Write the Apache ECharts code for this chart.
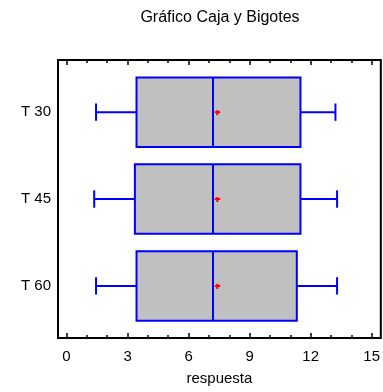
<!doctype html>
<html>
<head>
<meta charset="UTF-8">
<title>Gráfico Caja y Bigotes</title>
<script src="https://cdn.jsdelivr.net/npm/echarts@6/dist/echarts.min.js"></script>
<style>
html,body{margin:0;padding:0;background:#fff;}
#chart{width:383px;height:392px;}
</style>
</head>
<body>
<div id="chart"></div>
<script type="text/javascript">
// categorias y estadisticos
var categorias = ['T 30', 'T 45', 'T 60'];
var minimos   = [1.45, 1.36, 1.45];
var cuartil1  = [3.44, 3.36, 3.44];
var medianas  = [7.20, 7.20, 7.20];
var cuartil3  = [11.50, 11.50, 11.32];
var maximos   = [13.22, 13.30, 13.30];
var medias    = [7.41, 7.41, 7.41];
var ticksX    = [0, 3, 6, 9, 12, 15];
var ticksMenor = [1, 2, 4, 5, 7, 8, 10, 11, 13, 14];

var fuente = 'Liberation Sans, Arial, sans-serif';

var datos = [];
for (var i = 0; i < categorias.length; i++) {
  datos.push([i + 1, minimos[i], cuartil1[i], medianas[i], cuartil3[i], maximos[i], medias[i]]);
}

function dibujaCaja(params, api) {
  var y = api.value(0);
  var lw = 2, azul = '#0000ff';
  var c = function (x, yy) { return api.coord([x, yy]); };
  var pLow = c(api.value(1), y), pQ1 = c(api.value(2), y), pMed = c(api.value(3), y);
  var pQ3 = c(api.value(4), y), pHigh = c(api.value(5), y), pMean = c(api.value(6), y);
  var top = c(api.value(2), y - 0.4)[1], bot = c(api.value(2), y + 0.4)[1];
  var capT = c(api.value(1), y - 0.1)[1], capB = c(api.value(1), y + 0.1)[1];
  var st = { stroke: azul, lineWidth: lw };
  return {
    type: 'group',
    children: [
      { type: 'line', shape: { x1: pLow[0], y1: pLow[1], x2: pQ1[0], y2: pQ1[1] }, style: st },
      { type: 'line', shape: { x1: pQ3[0], y1: pQ3[1], x2: pHigh[0], y2: pHigh[1] }, style: st },
      { type: 'line', shape: { x1: pLow[0], y1: capT, x2: pLow[0], y2: capB }, style: st },
      { type: 'line', shape: { x1: pHigh[0], y1: capT, x2: pHigh[0], y2: capB }, style: st },
      { type: 'rect', shape: { x: pQ1[0], y: top, width: pQ3[0] - pQ1[0], height: bot - top },
        style: { fill: '#c0c0c0', stroke: azul, lineWidth: lw } },
      { type: 'line', shape: { x1: pMed[0], y1: top, x2: pMed[0], y2: bot }, style: st },
      { type: 'line', shape: { x1: pMean[0] - 2.5, y1: pMean[1], x2: pMean[0] + 3, y2: pMean[1] },
        style: { stroke: '#ff0000', lineWidth: 2 } },
      { type: 'line', shape: { x1: pMean[0], y1: pMean[1] - 2, x2: pMean[0], y2: pMean[1] + 3 },
        style: { stroke: '#ff0000', lineWidth: 2 } }
    ]
  };
}

function ejeX(pos, largo, valores, conEtiquetas) {
  return {
    type: 'value', position: pos, min: -0.42, max: 15.45,
    axisLine: { show: false },
    splitLine: { show: false },
    axisTick: { show: true, inside: true, length: largo, customValues: valores,
      lineStyle: { color: '#000', width: 1.5 } },
    axisLabel: { show: conEtiquetas, customValues: valores, margin: 11,
      color: '#000', fontSize: 15, fontFamily: fuente }
  };
}

var x0 = ejeX('bottom', 5, ticksX, true);
x0.name = 'respuesta';
x0.nameLocation = 'middle';
x0.nameGap = 33;
x0.nameTextStyle = { color: '#000', fontSize: 15, fontFamily: fuente };

var grafico = echarts.init(document.getElementById('chart'));
grafico.setOption({
  animation: false,
  title: {
    text: 'Gráfico Caja y Bigotes', left: 220, top: 10, textAlign: 'center', padding: 0,
    textStyle: { color: '#000', fontSize: 16, fontWeight: 'normal', fontFamily: fuente }
  },
  grid: { left: 58, top: 60, width: 323, height: 278, show: true,
    borderColor: '#000', borderWidth: 2, backgroundColor: 'transparent' },
  xAxis: [
    x0,
    ejeX('bottom', 3, ticksMenor, false),
    ejeX('top', 5, ticksX, false),
    ejeX('top', 3, ticksMenor, false)
  ],
  yAxis: {
    type: 'value', min: 0.4, max: 3.6, inverse: true,
    axisLine: { show: false }, axisTick: { show: false }, splitLine: { show: false },
    axisLabel: { customValues: [1, 2, 3], margin: 7, color: '#000', fontSize: 15, fontFamily: fuente,
      formatter: function (v) { return categorias[Math.round(v) - 1]; } }
  },
  series: [{
    type: 'custom', renderItem: dibujaCaja, data: datos,
    xAxisIndex: 0, encode: { x: [1, 2, 3, 4, 5, 6], y: 0 }
  }]
});
</script>
</body>
</html>
